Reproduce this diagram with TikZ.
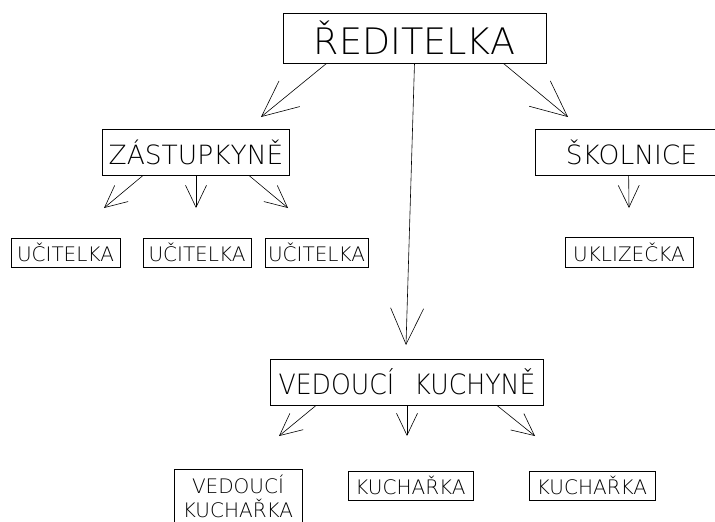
\documentclass[tikz,border=0pt]{standalone}
\usepackage{fontspec}
\newfontfamily\cad{DejaVu Sans ExtraLight}
\newfontfamily\cadn{DejaVu Sans ExtraLight}[FakeStretch=0.9]
\usetikzlibrary{arrows.meta,calc}
\begin{document}
\begin{tikzpicture}[x=1pt,y=-1pt,
  box/.style={draw, line width=0.7pt, inner sep=0pt, align=center},
  fbig/.style={font=\cad\fontsize{36.5pt}{42pt}\selectfont},
  fmid/.style={font=\cad\fontsize{26.5pt}{32pt}\selectfont},
  fsmall/.style={font=\cad\fontsize{20pt}{24pt}\selectfont},
  bigarr/.style={line width=0.6pt, arrows={-Straight Barb[length=36pt,width=33pt]}},
  smallarr/.style={line width=0.6pt, arrows={-Straight Barb[length=22pt,width=21pt]}}]
\useasboundingbox[fill=white] (0,0) rectangle (715,522);

\node[box, fbig, minimum width=263pt, minimum height=50pt] (red) at (414.5,38) {ŘEDITELKA};
\node[box, fmid, minimum width=187pt, minimum height=46pt] (zas) at (196,152) {ZÁSTUPKYNĚ};
\node[box, fmid, minimum width=193pt, minimum height=46pt] (sko) at (631.5,152) {ŠKOLNICE};
\node[box, fsmall, minimum width=109pt, minimum height=29pt] (uc1) at (65.5,252.5) {UČITELKA};
\node[box, fsmall, minimum width=108pt, minimum height=29pt] (uc2) at (197,252.5) {UČITELKA};
\node[box, fsmall, minimum width=103pt, minimum height=29pt] (uc3) at (316.5,252.5) {UČITELKA};
\node[box, fsmall, minimum width=128pt, minimum height=30pt] (ukl) at (629,252) {UKLIZEČKA};
\node[box, font=\cadn\fontsize{28pt}{32pt}\selectfont, minimum width=273pt, minimum height=46pt] (vk) at (407,382) {VEDOUCÍ\hspace{12pt} KUCHYNĚ};
\node[box, fsmall, minimum width=128pt, minimum height=54pt] (vku) at (238,496) {VEDOUCÍ\\KUCHAŘKA};
\node[box, fsmall, minimum width=125pt, minimum height=29pt] (k1) at (410.5,485.5) {KUCHAŘKA};
\node[box, fsmall, minimum width=126pt, minimum height=29pt] (k2) at (592,485.5) {KUCHAŘKA};

\coordinate (t1) at (261,117);
\coordinate (t2) at (406,345);
\coordinate (t3) at (568,117);
\coordinate (t4) at (104,208);
\coordinate (t5) at (196,208);
\coordinate (t6) at (288,208);
\coordinate (t7) at (629,208);
\coordinate (t8) at (279,436);
\coordinate (t9) at (407,436);
\coordinate (t10) at (535,436);

\draw[bigarr] ($(red.south west)+(44,0)$) -- (t1);
\draw[bigarr] (red.south) -- (t2);
\draw[bigarr] ($(red.south east)+(-43,0)$) -- (t3);
\draw[smallarr] ($(zas.south west)+(41,0)$) -- (t4);
\draw[smallarr] (zas.south) -- (t5);
\draw[smallarr] ($(zas.south east)+(-41,0)$) -- (t6);
\draw[smallarr] ($(sko.south west)+(94,0)$) -- (t7);
\draw[smallarr] ($(vk.south west)+(46,0)$) -- (t8);
\draw[smallarr] (vk.south) -- (t9);
\draw[smallarr] ($(vk.south east)+(-47,0)$) -- (t10);
\end{tikzpicture}
\end{document}
